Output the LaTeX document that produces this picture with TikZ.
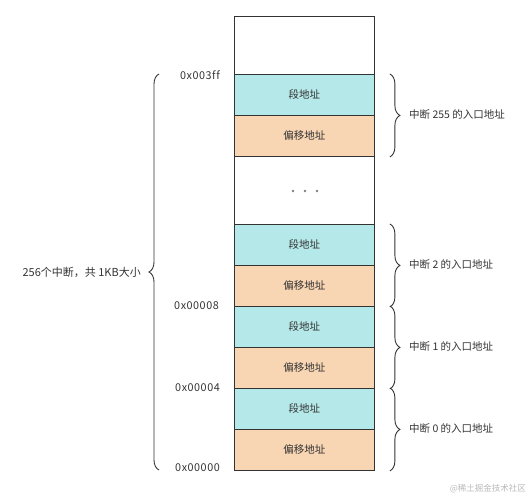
\documentclass[tikz,border=0pt]{standalone}
\usepackage{fontspec}
\setmainfont{Noto Sans CJK SC}
\usetikzlibrary{decorations.pathreplacing}
\definecolor{tealfill}{HTML}{B5E8E8}
\definecolor{orangefill}{HTML}{F8D5B3}
\definecolor{edge}{HTML}{333333}
\definecolor{txt}{HTML}{333333}
\begin{document}
\begin{tikzpicture}[x=1pt,y=-1pt,
  cell/.style={draw=edge,line width=0.9pt,minimum width=140pt,minimum height=41pt,anchor=north west,inner sep=0pt,text=txt,font=\fontsize{10.5}{12}\selectfont},
  segcell/.style={cell,fill=tealfill},
  offcell/.style={cell,fill=orangefill},
  blankcell/.style={cell,fill=white},
  lbl/.style={text=txt,font=\fontsize{10.5}{12}\selectfont,inner sep=0pt},
  addr/.style={text=txt,font=\fontsize{10.8}{12}\selectfont\addfontfeature{LetterSpace=5,Ligatures=NoCommon},inner sep=0pt,anchor=east},
  bracedec/.style={draw=edge,line width=0.9pt,decorate,decoration={brace,amplitude=10pt,aspect=0.5}}]
\useasboundingbox (0,0) rectangle (531,500);
% column
\node[blankcell,minimum height=58pt] (top) at (234,16) {};
\node[segcell] (s255) at (234,74) {段地址};
\node[offcell] (o255) at (234,115) {偏移地址};
\node[blankcell,minimum height=68pt] (gap) at (234,156) {};
\node[segcell] (s2) at (234,224) {段地址};
\node[offcell] (o2) at (234,265) {偏移地址};
\node[segcell] (s1) at (234,306) {段地址};
\node[offcell] (o1) at (234,347) {偏移地址};
\node[segcell] (s0) at (234,388) {段地址};
\node[offcell] (o0) at (234,429) {偏移地址};
% dots
\foreach \xx in {293,305,317} \fill[gray] (\xx,191) circle (1.3pt);
% address labels
\node[addr] (a3ff) at (220,75) {0x003f{}f};
\node[addr] (a8) at (219,306) {0x00008};
\node[addr] (a4) at (220,388) {0x00004};
\node[addr] (a0) at (220,468) {0x00000};
% right braces
\coordinate (r255t) at ([xshift=15pt]s255.north east);
\coordinate (r255b) at ([xshift=15pt]o255.south east);
\coordinate (r2t) at ([xshift=15pt]s2.north east);
\coordinate (r2b) at ([xshift=15pt]o2.south east);
\coordinate (r1t) at ([xshift=15pt]s1.north east);
\coordinate (r1b) at ([xshift=15pt]o1.south east);
\coordinate (r0t) at ([xshift=15pt]s0.north east);
\coordinate (r0b) at ([xshift=15pt]o0.south east);
\draw[bracedec] (r255t) -- (r255b);
\draw[bracedec] (r2t) -- (r2b);
\draw[bracedec] (r1t) -- (r1b);
\draw[bracedec] (r0t) -- (r0b);
\node[lbl,anchor=west] (l255) at (409,115) {中断 255 的入口地址};
\node[lbl,anchor=west] (l2) at (409,265) {中断 2 的入口地址};
\node[lbl,anchor=west] (l1) at (409,347) {中断 1 的入口地址};
\node[lbl,anchor=west] (l0) at (409,429) {中断 0 的入口地址};
% left brace
\coordinate (lbt) at (159,74);
\coordinate (lbb) at (159,470);
\draw[bracedec] (lbb) -- (lbt);
\node[lbl,anchor=east,font=\fontsize{11}{12}\selectfont] (total) at (141,272) {256个中断，共 1KB大小};
% watermark
\node[text=gray!55,font=\fontsize{8.5}{10}\selectfont,anchor=east,inner sep=0pt] (wm) at (526,489) {@稀土掘金技术社区};
\end{tikzpicture}
\end{document}
